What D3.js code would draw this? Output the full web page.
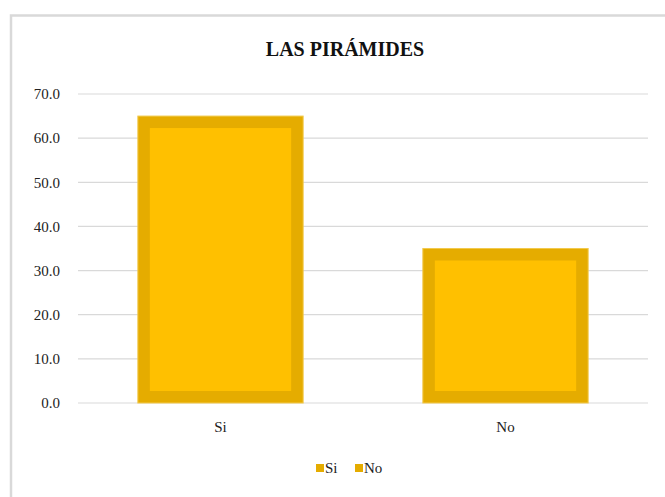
<!DOCTYPE html>
<html>
<head>
<meta charset="utf-8">
<script src="https://cdn.jsdelivr.net/npm/d3@7"></script>
</head>
<body style="margin:0;background:#fff">
<div id="chart"></div>
<script>
// Chart data
const title = "LAS PIRÁMIDES";
const categories = ["Si", "No"];
const values = [65.0, 35.0];
const yTicks = [0, 10, 20, 30, 40, 50, 60, 70];

const width = 665, height = 497;
const plot = { left: 78, right: 648, top: 94, bottom: 403 };
const fontFam = "'Liberation Serif', 'Times New Roman', serif";

const svg = d3.select("#chart").append("svg")
    .attr("width", width)
    .attr("height", height)
    .style("display", "block");

// Outer chart frame (clipped by the window on the right and bottom)
svg.append("rect")
    .attr("x", 11).attr("y", 15.5)
    .attr("width", 700).attr("height", 600)
    .attr("fill", "none")
    .attr("stroke", "#d9d9d9")
    .attr("stroke-width", 2.5);

// Title
svg.append("text")
    .attr("x", 345).attr("y", 56)
    .attr("text-anchor", "middle")
    .style("font", `bold 20px ${fontFam}`)
    .style("fill", "#111")
    .text(title);

// Scales
const x = d3.scaleBand()
    .domain(categories)
    .range([plot.left, plot.right])
    .paddingInner(0.42)
    .paddingOuter(0.21);

const y = d3.scaleLinear()
    .domain([0, 70])
    .range([plot.bottom, plot.top]);

// Gridlines
svg.append("g")
    .selectAll("line")
    .data(yTicks)
    .join("line")
    .attr("x1", plot.left).attr("x2", plot.right)
    .attr("y1", d => y(d)).attr("y2", d => y(d))
    .attr("stroke", "#d9d9d9")
    .attr("stroke-width", 1.2);

// Y axis labels
const yAxis = svg.append("g")
    .attr("transform", `translate(${plot.left - 15},0)`)
    .call(d3.axisLeft(y).tickValues(yTicks).tickFormat(d3.format(".1f")).tickSize(0));
yAxis.select(".domain").remove();
yAxis.attr("font-family", null).attr("font-size", null);
yAxis.selectAll("text")
    .style("font", `15px ${fontFam}`)
    .style("fill", "#222");

// Bars: thick darker border inside the bar outline
const bw = 12;
const bars = svg.append("g")
    .selectAll("g")
    .data(categories.map((c, i) => ({ c, v: values[i] })))
    .join("g");

bars.append("rect")
    .attr("x", d => x(d.c))
    .attr("y", d => y(d.v))
    .attr("width", x.bandwidth())
    .attr("height", d => y(0) - y(d.v))
    .attr("fill", "#e5ac00")
    .attr("stroke", "#f2c94c")
    .attr("stroke-width", 1);

bars.append("rect")
    .attr("x", d => x(d.c) + bw)
    .attr("y", d => y(d.v) + bw)
    .attr("width", x.bandwidth() - 2 * bw)
    .attr("height", d => y(0) - y(d.v) - 2 * bw)
    .attr("fill", "#ffc000");

// X axis labels
svg.append("g")
    .selectAll("text")
    .data(categories)
    .join("text")
    .attr("x", d => x(d) + x.bandwidth() / 2)
    .attr("y", 432)
    .attr("text-anchor", "middle")
    .style("font", `15px ${fontFam}`)
    .style("fill", "#222")
    .text(d => d);

// Legend
const legendX = [316, 355];
const legend = svg.append("g")
    .selectAll("g")
    .data(categories)
    .join("g")
    .attr("transform", (d, i) => `translate(${legendX[i]},463)`);

legend.append("rect")
    .attr("width", 8).attr("height", 8)
    .attr("y", 1)
    .attr("fill", "#e5ac00");

legend.append("text")
    .attr("x", 9).attr("y", 10)
    .style("font", `15px ${fontFam}`)
    .style("fill", "#222")
    .text(d => d);
</script>
</body>
</html>
